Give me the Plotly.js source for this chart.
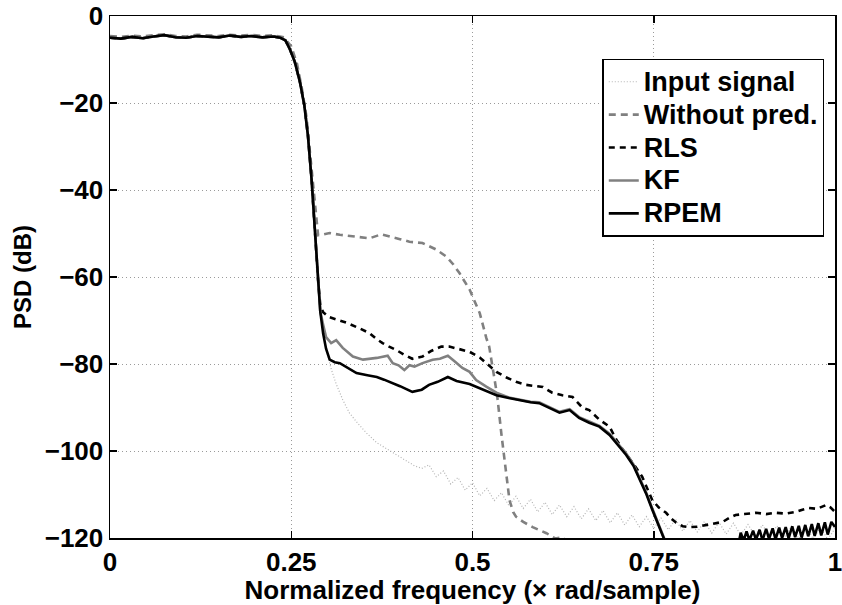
<!DOCTYPE html>
<html>
<head>
<meta charset="utf-8">
<script src="https://cdn.plot.ly/plotly-3.0.1.min.js"></script>
<style>
  html, body { margin: 0; padding: 0; background: #ffffff; }
  #chart { width: 842px; height: 605px; }
  .legendtext { font-size: 27px !important; }
</style>
</head>
<body>
<div id="chart"></div>
<script>
// ---------- data ----------
var seriesNames = ["Input signal", "Without pred.", "RLS", "KF", "RPEM"];

var xTickVals = [0, 0.25, 0.5, 0.75, 1];
var xTickText = ["0", "0.25", "0.5", "0.75", "1"];
var yTickVals = [-120, -100, -80, -60, -40, -20, 0];

var inputFreq = [0, 0.015, 0.03, 0.045, 0.06, 0.075, 0.09, 0.105, 0.12, 0.135, 0.15, 0.165, 0.18, 0.195, 0.21, 0.225, 0.235, 0.242, 0.248, 0.255, 0.262, 0.268, 0.273, 0.278, 0.283, 0.287, 0.290, 0.294, 0.298,
  0.305, 0.312, 0.321, 0.330, 0.342, 0.354, 0.368, 0.385, 0.400, 0.420, 0.430,
  0.44, 0.45, 0.46, 0.47, 0.48, 0.49, 0.50, 0.51, 0.52, 0.53, 0.54, 0.55, 0.56, 0.57, 0.58, 0.59, 0.60, 0.61, 0.62, 0.63, 0.64, 0.65, 0.66, 0.67, 0.68, 0.69, 0.70,
  0.71, 0.72, 0.73, 0.74, 0.75, 0.76, 0.77, 0.78, 0.79, 0.80, 0.81, 0.82, 0.83, 0.84, 0.85, 0.86, 0.87, 0.88, 0.89, 0.90, 0.91, 0.92, 0.93, 0.94, 0.95, 0.96, 0.97, 0.98, 0.99, 1.00];
var inputPsd = [-5.0, -5.2, -4.8, -5.1, -4.7, -4.4, -4.9, -5.0, -4.6, -4.8, -4.9, -4.5, -4.8, -4.6, -4.9, -4.7, -5.0, -5.6, -7.6, -10.6, -15.2, -20.5, -27.5, -37.5, -50.7, -60.8, -67.9, -73.0, -76.5,
  -81.1, -84.6, -88.2, -91.2, -93.7, -95.9, -98.1, -99.8, -101.3, -103.4, -104.0,
  -103.2, -105.9, -104.6, -107.6, -106.1, -109.0, -107.3, -110.3, -108.6, -111.4, -109.6, -112.5, -110.4, -113.2, -111.1, -114.0, -111.8, -114.6, -112.4, -115.1, -112.8, -115.6, -113.3, -116.0, -113.7, -116.5, -114.2,
  -117.0, -114.7, -117.4, -115.1, -117.8, -115.4, -118.1, -115.7, -118.4, -116.0, -118.6, -116.2, -118.9, -116.4, -119.1, -116.6, -119.3, -116.9, -119.5, -117.0, -119.7, -117.2, -119.9, -117.3, -120.1, -117.5, -120.2, -117.6, -120.3, -117.8];

var noPredFreq = [0, 0.015, 0.03, 0.045, 0.06, 0.075, 0.09, 0.105, 0.12, 0.135, 0.15, 0.165, 0.18, 0.195, 0.21, 0.225, 0.24, 0.25, 0.258, 0.265, 0.271, 0.277, 0.282, 0.287,
  0.295, 0.303, 0.317, 0.331, 0.345, 0.358, 0.374, 0.390, 0.400, 0.413, 0.431, 0.440, 0.450, 0.464, 0.473, 0.482, 0.490, 0.496, 0.505, 0.510, 0.519, 0.523, 0.530, 0.534, 0.540, 0.546, 0.551, 0.556, 0.560, 0.570, 0.583, 0.602, 0.614, 0.624, 0.632, 0.640, 0.660];
var noPredPsd = [-4.6, -4.8, -4.5, -4.7, -4.4, -4.2, -4.6, -4.7, -4.3, -4.5, -4.6, -4.3, -4.5, -4.3, -4.6, -4.4, -4.9, -7.0, -11.0, -17.0, -23.2, -33.4, -42.5, -50.4,
  -50.2, -49.9, -50.3, -50.6, -50.9, -51.1, -50.2, -50.8, -51.3, -51.9, -52.2, -52.9, -53.7, -55.3, -57.0, -59.1, -61.1, -62.9, -66.4, -68.3, -74.0, -76.0, -83.1, -87.2, -96.3, -104.4, -111.3, -114.0, -115.1, -116.3, -117.5, -118.9, -120.1, -119.8, -121.1, -123.6, -128.0];

var rlsFreq = [0, 0.015, 0.03, 0.045, 0.06, 0.075, 0.09, 0.105, 0.12, 0.135, 0.15, 0.165, 0.18, 0.195, 0.21, 0.225, 0.235, 0.242, 0.248, 0.255, 0.262, 0.268, 0.273, 0.278, 0.283, 0.287, 0.290,
  0.294, 0.302, 0.314, 0.326, 0.344, 0.358, 0.368, 0.376, 0.385, 0.395, 0.405, 0.417, 0.431, 0.443, 0.457, 0.468, 0.480, 0.496, 0.510, 0.523, 0.533, 0.547, 0.560, 0.574, 0.585, 0.597, 0.610, 0.624, 0.638, 0.652, 0.661, 0.675, 0.689, 0.698, 0.707, 0.716, 0.725, 0.734, 0.741, 0.748,
  0.757, 0.767, 0.774, 0.781, 0.790, 0.799, 0.810, 0.822, 0.833, 0.845, 0.855, 0.863, 0.875, 0.891, 0.905, 0.918, 0.932, 0.946, 0.955, 0.964, 0.975, 0.988, 0.994, 1.000];
var rlsPsd = [-5.0, -5.2, -4.8, -5.1, -4.7, -4.4, -4.9, -5.0, -4.6, -4.8, -4.9, -4.5, -4.8, -4.6, -4.9, -4.7, -5.0, -5.6, -7.6, -10.6, -15.2, -20.5, -27.5, -37.5, -50.7, -60.8, -66.4,
  -68.1, -69.2, -69.9, -70.5, -71.8, -72.9, -74.3, -75.2, -76.0, -76.8, -77.8, -78.8, -78.3, -77.0, -76.0, -76.0, -76.5, -77.2, -78.5, -80.3, -81.8, -83.1, -84.1, -84.8, -85.1, -85.3, -86.6, -87.2, -87.6, -90.1, -90.6, -92.8, -94.4, -97.3, -99.6, -101.6, -103.7, -105.9, -108.4, -111.3,
  -113.0, -114.2, -115.5, -116.5, -117.3, -117.5, -117.4, -117.0, -116.7, -116.3, -115.3, -114.7, -114.5, -114.2, -114.5, -114.2, -114.4, -114.0, -113.5, -113.1, -113.3, -112.4, -113.0, -114.0];

var kfFreq = [0, 0.015, 0.03, 0.045, 0.06, 0.075, 0.09, 0.105, 0.12, 0.135, 0.15, 0.165, 0.18, 0.195, 0.21, 0.225, 0.235, 0.242, 0.248, 0.255, 0.262, 0.268, 0.273, 0.278, 0.283, 0.287, 0.290,
  0.294, 0.298, 0.305, 0.312, 0.321, 0.335, 0.349, 0.360, 0.368, 0.383, 0.390, 0.398, 0.406, 0.413, 0.420, 0.431, 0.445, 0.455, 0.466, 0.476, 0.486, 0.496, 0.505, 0.519, 0.533, 0.550,
  0.565, 0.580, 0.592, 0.606, 0.620, 0.634, 0.647, 0.661, 0.675, 0.689, 0.702, 0.712, 0.722, 0.730, 0.740, 0.748, 0.755, 0.762, 0.770, 0.800];
var kfPsd = [-5.0, -5.2, -4.8, -5.1, -4.7, -4.4, -4.9, -5.0, -4.6, -4.8, -4.9, -4.5, -4.8, -4.6, -4.9, -4.7, -5.0, -5.6, -7.6, -10.6, -15.2, -20.5, -27.5, -37.5, -50.7, -60.8, -67.9,
  -71.0, -73.8, -75.2, -74.5, -76.3, -78.3, -79.0, -78.8, -78.6, -78.1, -79.8, -80.3, -81.4, -80.3, -80.6, -79.8, -79.0, -78.8, -78.1, -79.5, -80.9, -81.8, -83.7, -85.2, -86.6, -87.7,
  -88.2, -88.7, -88.8, -89.9, -91.0, -90.4, -92.2, -93.2, -94.2, -96.0, -98.5, -100.6, -103.1, -106.1, -109.7, -113.2, -116.2, -119.3, -122.8, -135.0];

var rpemFreq = [0, 0.015, 0.03, 0.045, 0.06, 0.075, 0.09, 0.105, 0.12, 0.135, 0.15, 0.165, 0.18, 0.195, 0.21, 0.225, 0.235, 0.242, 0.248, 0.255, 0.262, 0.268, 0.273, 0.278, 0.283, 0.287, 0.290,
  0.294, 0.298, 0.303, 0.310, 0.317, 0.330, 0.340, 0.355, 0.368, 0.378, 0.386, 0.400, 0.417, 0.430, 0.440, 0.452, 0.466, 0.478, 0.496, 0.514, 0.533, 0.550, 0.565, 0.580, 0.592, 0.606, 0.620, 0.634,
  0.647, 0.661, 0.675, 0.689, 0.702, 0.712, 0.722, 0.730, 0.740, 0.748, 0.755, 0.762, 0.770, 0.800, 0.850, 0.866,
  0.870, 0.874, 0.878, 0.882, 0.887, 0.891, 0.896, 0.900, 0.905, 0.909, 0.914, 0.918, 0.923, 0.927, 0.932, 0.936, 0.941, 0.945, 0.950, 0.954, 0.959, 0.963, 0.968, 0.972, 0.977, 0.981, 0.986, 0.990, 0.995, 1.000];
var rpemPsd = [-5.0, -5.2, -4.8, -5.1, -4.7, -4.4, -4.9, -5.0, -4.6, -4.8, -4.9, -4.5, -4.8, -4.6, -4.9, -4.7, -5.0, -5.6, -7.6, -10.6, -15.2, -20.5, -27.5, -37.5, -50.7, -60.8, -67.9,
  -73.0, -76.5, -79.0, -79.6, -79.8, -81.1, -82.1, -82.6, -83.0, -83.6, -84.1, -85.1, -86.4, -85.9, -84.8, -84.1, -83.0, -83.9, -84.6, -85.9, -87.2, -87.8, -88.3, -88.8, -89.0, -90.1, -91.2, -90.6,
  -92.4, -93.5, -94.4, -96.3, -98.8, -100.9, -103.4, -106.4, -110.0, -113.5, -116.5, -119.6, -123.0, -135.0, -135.0, -122.0,
  -118.8, -120.6, -118.5, -120.5, -118.3, -120.4, -118.1, -120.5, -117.9, -120.2, -117.8, -120.3, -117.6, -120.0, -117.5, -120.1, -117.3, -119.8, -117.2, -119.9, -117.0, -119.6, -116.8, -119.5, -116.6, -119.4, -116.4, -119.2, -116.3, -117.5];

var xTitle = "Normalized frequency (\u00d7 rad/sample)";
var yTitle = "PSD (dB)";

// ---------- chart ----------
var FONT = "Liberation Sans, Arial, Helvetica, sans-serif";

var traces = [
  {x: inputFreq, y: inputPsd, name: seriesNames[0], mode: "lines",
   line: {color: "#b4b4b4", width: 1.2, dash: "1px,2px"}},
  {x: noPredFreq, y: noPredPsd, name: seriesNames[1], mode: "lines",
   line: {color: "#808080", width: 2.6, dash: "7px,5px"}},
  {x: rlsFreq, y: rlsPsd, name: seriesNames[2], mode: "lines",
   line: {color: "#000000", width: 2.6, dash: "6px,5px"}},
  {x: kfFreq, y: kfPsd, name: seriesNames[3], mode: "lines",
   line: {color: "#808080", width: 2.6}},
  {x: rpemFreq, y: rpemPsd, name: seriesNames[4], mode: "lines",
   line: {color: "#000000", width: 2.6}}
];

var axisCommon = {
  showline: true, linecolor: "#000000", linewidth: 1.5, mirror: "ticks",
  ticks: "inside", ticklen: 7, tickwidth: 1.5, tickcolor: "#000000",
  showgrid: true, gridcolor: "#9a9a9a", gridwidth: 1, griddash: "1px,3px",
  zeroline: false, ticklabeloverflow: "allow",
  tickfont: {family: FONT, size: 26, color: "#000000", weight: "bold"}
};

var layout = {
  width: 842, height: 605,
  margin: {l: 110, r: 7, t: 16, b: 67},
  paper_bgcolor: "#ffffff", plot_bgcolor: "#ffffff",
  showlegend: true,
  xaxis: Object.assign({}, axisCommon, {
    range: [0, 1], tickmode: "array", tickvals: xTickVals, ticktext: xTickText,
    title: {text: xTitle, font: {family: FONT, size: 26, color: "#000000", weight: "bold"}, standoff: 0}
  }),
  yaxis: Object.assign({}, axisCommon, {
    range: [-120, 0], tickmode: "array", tickvals: yTickVals,
    title: {text: yTitle, font: {family: FONT, size: 24, color: "#000000", weight: "bold"}, standoff: 6}
  }),
  legend: {
    x: 0.679, y: 0.918, xanchor: "left", yanchor: "top",
    bgcolor: "#ffffff", bordercolor: "#000000", borderwidth: 1.5,
    font: {family: FONT, size: 23, color: "#000000", weight: "bold"},
    itemwidth: 30
  }
};

Plotly.newPlot("chart", traces, layout, {displayModeBar: false, staticPlot: true});
</script>
</body>
</html>
